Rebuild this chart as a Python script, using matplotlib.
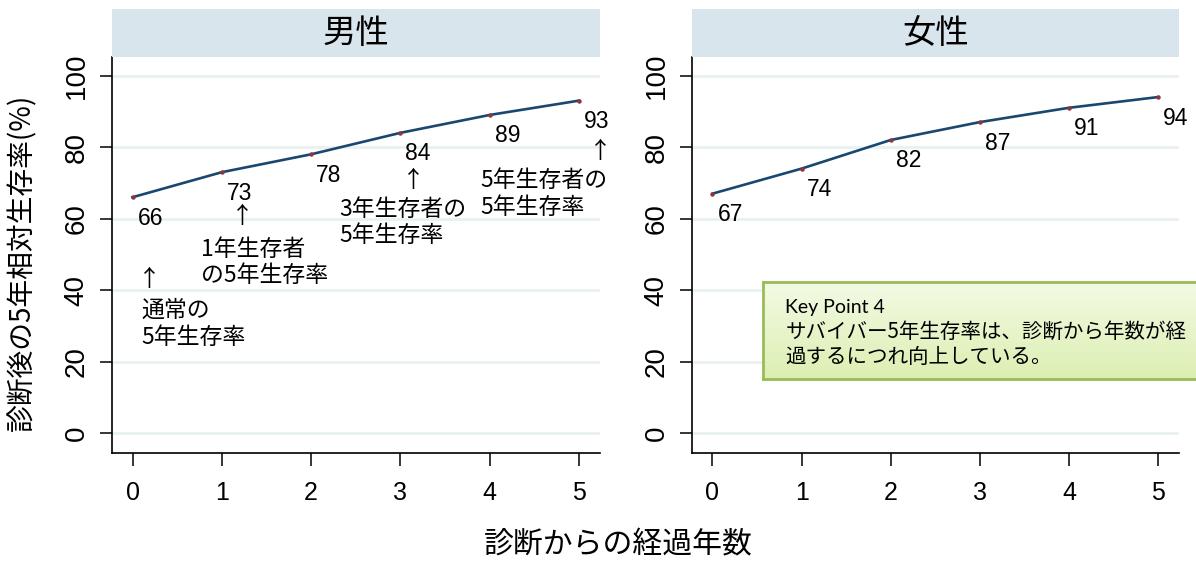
import numpy as np
import matplotlib
matplotlib.use("Agg")
import matplotlib.pyplot as plt
from matplotlib.colors import LinearSegmentedColormap

plt.rcParams['font.family'] = ['Noto Sans CJK JP', 'DejaVu Sans']

# data
years = [0, 1, 2, 3, 4, 5]
male = [66, 73, 78, 84, 89, 93]
female = [67, 74, 82, 87, 91, 94]
panel_titles = ["男性", "女性"]
y_ticks = [0, 20, 40, 60, 80, 100]

# notes on the male panel: (text, x, y, halign)
male_notes = [
    ("↑", 0.19, 42.9, "center"),
    ("通常の\n5年生存率", 0.10, 30.6, "left"),
    ("1年生存者\nの5年生存率", 0.77, 47.8, "left"),
    ("↑", 1.233, 60.5, "center"),
    ("↑", 3.139, 70.8, "center"),
    ("3年生存者の\n5年生存率", 2.32, 58.9, "left"),
    ("↑", 5.235, 78.9, "center"),
    ("5年生存者の\n5年生存率", 3.89, 66.9, "left"),
]
key_title = "Key Point 4"
key_text = "サバイバー5年生存率は、診断から年数が経\n過するにつれ向上している。"

NAVY = "#1a476f"
MAROON = "#90353b"
GRID = "#e9f1f3"
STRIP = "#d9e5ec"
NUMFONT = ["Liberation Sans", "DejaVu Sans"]

W, H = 1196, 563
fig = plt.figure(figsize=(W / 100, H / 100), dpi=100, facecolor="white")

# pixel rects: (left, right)
panels = [(112, 600), (692, 1179)]
ax_top, ax_bot = 57, 453
strip_top = 9

axes = []
for (l, r), title, vals in zip(panels, panel_titles, [male, female]):
    ax = fig.add_axes([l / W, 1 - ax_bot / H, (r - l) / W, (ax_bot - ax_top) / H])
    ax.set_xlim(-0.23, 5.235)
    ax.set_ylim(-5.5, 105.2)
    for s in ("top", "right"):
        ax.spines[s].set_visible(False)
    for s in ("left", "bottom"):
        ax.spines[s].set_linewidth(1.2)
        ax.spines[s].set_color("black")
    ax.set_yticks(y_ticks)
    ax.set_xticks(years)
    ax.grid(axis="y", color=GRID, linewidth=2)
    ax.set_axisbelow(True)
    ax.tick_params(axis="x", length=9, width=1.1, pad=11, labelsize=18)
    ax.tick_params(axis="y", length=9, width=1.1, pad=7, labelsize=20, labelrotation=90)
    for lab in ax.get_xticklabels() + ax.get_yticklabels():
        lab.set_family(NUMFONT)
    for lab in ax.get_yticklabels():
        lab.set_va("center")
    ax.plot(years, vals, color=NAVY, linewidth=1.9, marker="o",
            markersize=2.2, markerfacecolor=MAROON, markeredgecolor=MAROON)
    for x, v in zip(years, vals):
        ax.annotate(str(v), (x, v), xytext=(5, -21), textcoords="offset pixels",
                    ha="left", va="center", fontsize=16.5, family=NUMFONT)
    # title strip
    sax = fig.add_axes([l / W, 1 - ax_top / H, (r - l) / W, (ax_top - strip_top) / H])
    sax.set_facecolor(STRIP)
    sax.set_xticks([])
    sax.set_yticks([])
    for s in sax.spines.values():
        s.set_visible(False)
    sax.text(0.5, 0.5, title, ha="center", va="center", fontsize=24,
             transform=sax.transAxes)
    axes.append(ax)

for txt, x, y, ha in male_notes:
    axes[0].text(x, y, txt, ha=ha, va="center", fontsize=16.5,
                 linespacing=1.2, clip_on=False)

# key point box
bl, bt, bb = 763, 282, 379
bax = fig.add_axes([bl / W, 1 - bb / H, (W - bl) / W + 0.01, (bb - bt) / H])
cmap = LinearSegmentedColormap.from_list("kp", ["#f3fae4", "#dcefb2"])
bax.imshow(np.linspace(0, 1, 64).reshape(-1, 1), aspect="auto", cmap=cmap,
           extent=(0, 1, 0, 1))
bax.set_xticks([])
bax.set_yticks([])
for s in bax.spines.values():
    s.set_color("#9bbb59")
    s.set_linewidth(2)
bax.text(0.05, 0.74, key_title, ha="left", va="center", fontsize=14,
         family=["Lato", "Noto Sans CJK JP"], transform=bax.transAxes)
bax.text(0.05, 0.36, key_text, ha="left", va="center", fontsize=14.8,
         linespacing=1.2, transform=bax.transAxes)

fig.text(22 / W, 1 - 262 / H, "診断後の5年相対生存率(%)", rotation=90,
         ha="center", va="center", fontsize=20)
fig.text(618 / W, 1 - 545 / H, "診断からの経過年数", ha="center", va="center",
         fontsize=21.5)

fig.savefig("out.png", dpi=100)
